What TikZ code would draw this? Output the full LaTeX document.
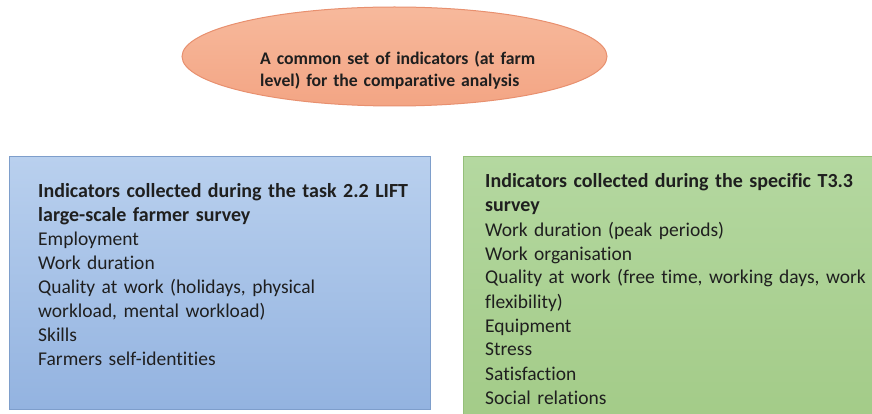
\documentclass[tikz,border=0pt]{standalone}
\usepackage{fontspec}
\setmainfont[Ligatures=NoCommon]{Carlito}
\usetikzlibrary{shapes.geometric}
\definecolor{ellfillA}{HTML}{F7B99C}
\definecolor{ellfillB}{HTML}{F3A584}
\definecolor{elldraw}{HTML}{E8906F}
\definecolor{blueA}{HTML}{B9D0EE}
\definecolor{blueB}{HTML}{93B3E0}
\definecolor{bluedraw}{HTML}{7E9ECB}
\definecolor{greenA}{HTML}{B4D8A0}
\definecolor{greenB}{HTML}{A3CB88}
\definecolor{greendraw}{HTML}{95BF7A}
\tikzset{
  txt/.style={font=\fontsize{19.5}{24}\selectfont, align=left, text width=400pt, inner sep=0pt, anchor=base west, text=black!88},
  hd/.style={font=\bfseries\fontsize{20}{24}\selectfont},
  blubox/.style={draw=bluedraw, line width=1pt, top color=blueA, bottom color=blueB, inner sep=0pt},
  grnbox/.style={draw=greendraw, line width=1pt, top color=greenA, bottom color=greenB, inner sep=0pt},
}
\newcommand{\hdtext}[1]{{\bfseries\fontsize{20}{24}\selectfont #1}}
\begin{document}
\begin{tikzpicture}[x=1pt,y=-1pt]
\useasboundingbox (0,0) rectangle (872,414);
\fill[white] (0,0) rectangle (872,414);
\node[ellipse, draw=elldraw, line width=1pt, top color=ellfillA, bottom color=ellfillB,
  minimum width=425pt, minimum height=99pt, inner sep=0pt] (goal) at (394.5,56.5) {};
\node[txt, font=\bfseries\fontsize{17.7}{22}\selectfont] (goaltext) at (260,65)
  {A common set of indicators (at farm\\level) for the comparative analysis};
\path[blubox] (9,157) rectangle (430,409) node[pos=0.5] (lift) {};
\path[grnbox] (463,157) rectangle (880,420) node[pos=0.5] (t33) {};
\node[txt] (lifttext) at (38,197)
  {\hdtext{Indicators collected during the task 2.2 LIFT}\\
   \hdtext{large-scale farmer survey}\\
   Employment\\
   Work duration\\
   Quality at work (holidays, physical\\
   workload, mental workload)\\
   Skills\\
   Farmers self-identities};
\node[txt] (t33text) at (485,188)
  {\hdtext{Indicators collected during the specific T3.3}\\
   \hdtext{survey}\\
   Work duration (peak periods)\\
   Work organisation\\
   Quality at work (free time, working days, work\\
   flexibility)\\
   Equipment\\
   Stress\\
   Satisfaction\\
   Social relations};
\end{tikzpicture}
\end{document}
